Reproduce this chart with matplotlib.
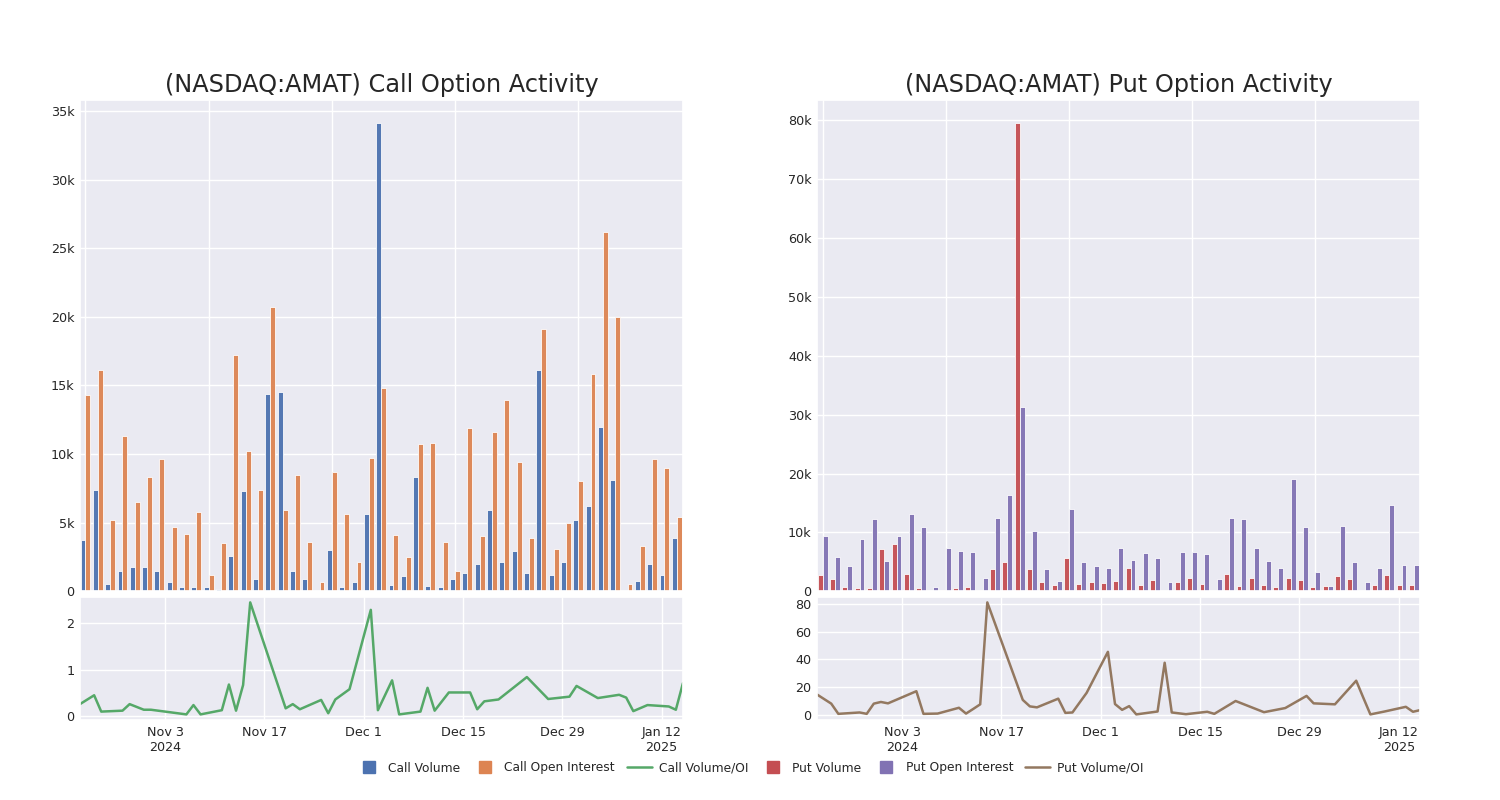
import matplotlib
matplotlib.use('Agg')
import matplotlib.pyplot as plt
from matplotlib.lines import Line2D
from matplotlib.ticker import FuncFormatter
import numpy as np
import pandas as pd
import seaborn as sns

# dati nolasīti no attēla
datumi = ['2024-10-22', '2024-10-24', '2024-10-25', '2024-10-28', '2024-10-29', '2024-10-30', '2024-10-31',
          '2024-11-01', '2024-11-05', '2024-11-06', '2024-11-07', '2024-11-08', '2024-11-11', '2024-11-12',
          '2024-11-13', '2024-11-14', '2024-11-15', '2024-11-20', '2024-11-21', '2024-11-22', '2024-11-25',
          '2024-11-26', '2024-11-27', '2024-11-29', '2024-12-02', '2024-12-03', '2024-12-04', '2024-12-05',
          '2024-12-06', '2024-12-09', '2024-12-10', '2024-12-11', '2024-12-13', '2024-12-16', '2024-12-17',
          '2024-12-18', '2024-12-20', '2024-12-24', '2024-12-27', '2024-12-30', '2024-12-31', '2025-01-03',
          '2025-01-06', '2025-01-07', '2025-01-08', '2025-01-10', '2025-01-13', '2025-01-14', '2025-01-15']

call_volume = [3.7, 7.4, 0.56, 1.5, 1.8, 1.8, 1.45, 0.7, 0.3, 0.3, 0.27, 0.15, 2.6, 7.3, 0.9, 14.4, 14.5,
               1.5, 0.9, 0.1, 3.0, 0.3, 0.7, 5.6, 34.1, 0.46, 1.1, 8.3, 0.37, 0.3, 0.9, 1.3, 2.0, 5.9, 2.1,
               2.95, 1.3, 16.1, 1.15, 2.1, 5.2, 6.2, 12.0, 8.1, 0.05, 0.75, 2.0, 1.2, 3.9]
call_oi = [14.3, 16.15, 5.2, 11.3, 6.5, 8.3, 9.6, 4.7, 4.2, 5.8, 1.2, 3.5, 17.2, 10.2, 7.4, 20.75, 5.9,
           8.5, 3.6, 0.7, 8.7, 5.6, 2.1, 9.7, 14.8, 4.1, 2.5, 10.7, 10.8, 3.6, 1.5, 11.9, 4.0, 11.6, 13.95,
           9.4, 3.9, 19.1, 3.1, 5.0, 8.0, 15.8, 26.2, 20.0, 0.5, 3.3, 9.6, 9.0, 5.4]
call_ratio = [0.26, 0.45, 0.10, 0.12, 0.26, 0.20, 0.14, 0.14, 0.06, 0.04, 0.24, 0.04, 0.13, 0.68, 0.12,
              0.67, 2.44, 0.17, 0.26, 0.15, 0.35, 0.065, 0.36, 0.58, 2.28, 0.13, 0.45, 0.77, 0.04, 0.10,
              0.61, 0.12, 0.51, 0.51, 0.15, 0.32, 0.36, 0.84, 0.37, 0.42, 0.65, 0.39, 0.46, 0.40, 0.11,
              0.24, 0.21, 0.14, 0.71]

put_volume = [2.8, 2.0, 0.7, 0.6, 0.6, 7.2, 8.0, 3.0, 0.6, 0.1, 0.2, 0.6, 0.7, 0.2, 3.7, 4.9, 79.5,
              3.75, 1.5, 1.1, 5.6, 1.2, 1.5, 1.4, 1.7, 3.9, 1.1, 1.9, 0.05, 1.5, 2.2, 1.3, 0.05, 2.9, 0.8,
              2.3, 1.1, 0.7, 2.2, 1.9, 0.7, 0.8, 2.5, 2.0, 0.05, 1.0, 2.7, 1.1, 1.0]
put_oi = [9.4, 5.85, 4.2, 8.9, 12.2, 5.2, 9.3, 13.1, 10.9, 0.7, 7.4, 6.8, 6.6, 2.2, 12.4, 16.4, 31.3,
          10.2, 3.75, 1.8, 13.9, 4.9, 4.2, 4.0, 7.3, 5.3, 6.5, 5.7, 1.6, 6.7, 6.65, 6.4, 2.0, 12.4, 12.3,
          7.4, 5.1, 4.0, 19.0, 10.85, 3.2, 0.9, 11.0, 4.9, 1.6, 4.0, 14.6, 4.4, 4.4]
put_ratio = [14.5, 7.9, 0.5, 1.5, 0.5, 7.9, 9.1, 8.1, 16.9, 0.5, 0.6, 0.7, 4.9, 0.7, 4.0, 7.4, 81.2,
             10.6, 5.9, 5.2, 11.5, 1.2, 1.5, 15.7, 45.4, 7.6, 3.4, 6.1, 0.1, 2.2, 37.5, 1.5, 0.25, 2.0,
             0.5, 3.6, 9.8, 1.7, 4.7, 13.5, 8.1, 7.4, 24.5, 12.2, 0.1, 2.2, 5.6, 2.0, 3.2]

tick_dates = ['2024-11-03', '2024-11-17', '2024-12-01', '2024-12-15', '2024-12-29', '2025-01-12']
tick_labels = ['Nov 3\n2024', 'Nov 17', 'Dec 1', 'Dec 15', 'Dec 29', 'Jan 12\n2025']

sns.set_theme(style='darkgrid', palette='deep')
plt.rcParams['font.family'] = ['DejaVu Sans']

zils, oranžs, zaļš, sarkans, violets, brūns = '#4C72B0', '#DD8452', '#55A868', '#C44E52', '#8172B3', '#937860'

d = pd.to_datetime(datumi)
x = np.arange(len(datumi))

fig = plt.figure(figsize=(15, 8), dpi=100)
k_formats = FuncFormatter(lambda v, p: '0' if v == 0 else f'{int(round(v / 1000))}k')


def panelis(left, vol, oi, ratio, c_vol, c_oi, c_line, virsraksts, yticks_line):
    ax = fig.add_axes([left, 0.261, 0.402, 0.614])
    ax.bar(x - 0.2, np.array(vol) * 1000, width=0.4, color=c_vol, edgecolor='w', linewidth=0.6, alpha=0.95)
    ax.bar(x + 0.2, np.array(oi) * 1000, width=0.4, color=c_oi, edgecolor='w', linewidth=0.6, alpha=0.95)
    ax.set_xlim(-0.45, len(x) - 0.5)
    ax.set_xticks([0, 10, 20, 30, 40])
    ax.set_xticklabels([])
    ax.yaxis.set_major_formatter(k_formats)
    ax.tick_params(length=0, labelsize=9.2, pad=4)
    ax.set_title(virsraksts, fontsize=17.3, pad=6)

    ax2 = fig.add_axes([left, 0.1, 0.402, 0.154])
    ax2.plot(d, ratio, color=c_line, linewidth=1.8)
    ax2.set_xlim(d[0], d[-1])
    ax2.set_xticks(pd.to_datetime(tick_dates))
    ax2.set_xticklabels(tick_labels)
    ax2.set_yticks(yticks_line)
    ax2.tick_params(length=0, labelsize=9.2, pad=4)
    return ax, ax2


panelis(0.0533, call_volume, call_oi, call_ratio, zils, oranžs, zaļš,
        '(NASDAQ:AMAT) Call Option Activity', [0, 1, 2])
panelis(0.5447, put_volume, put_oi, put_ratio, sarkans, violets, brūns,
        '(NASDAQ:AMAT) Put Option Activity', [0, 20, 40, 60, 80])

rokturi = [
    Line2D([], [], marker='s', linestyle='none', color=zils, markersize=9, label='Call Volume'),
    Line2D([], [], marker='s', linestyle='none', color=oranžs, markersize=9, label='Call Open Interest'),
    Line2D([], [], color=zaļš, linewidth=1.8, label='Call Volume/OI'),
    Line2D([], [], marker='s', linestyle='none', color=sarkans, markersize=9, label='Put Volume'),
    Line2D([], [], marker='s', linestyle='none', color=violets, markersize=9, label='Put Open Interest'),
    Line2D([], [], color=brūns, linewidth=1.8, label='Put Volume/OI'),
]
fig.legend(handles=rokturi, loc='center', bbox_to_anchor=(0.5, 0.04), ncol=6, frameon=False,
           fontsize=8.8, handlelength=2.0, handletextpad=0.6, columnspacing=1.0)

fig.savefig('out.png', dpi=100)
